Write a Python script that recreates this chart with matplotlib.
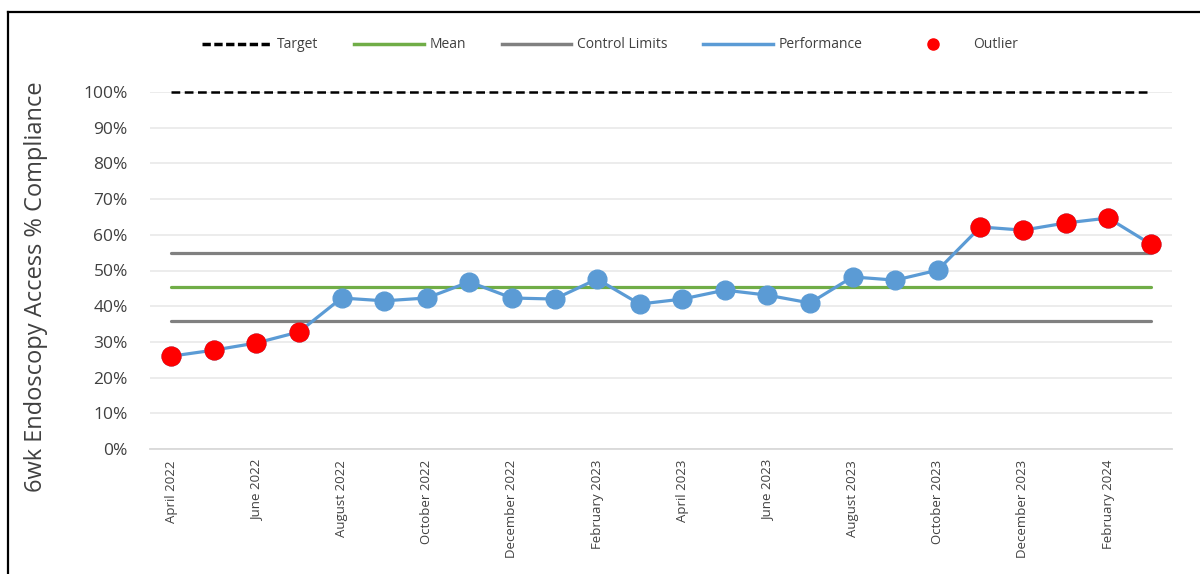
import numpy as np
import matplotlib
matplotlib.use("Agg")
import matplotlib.pyplot as plt
from matplotlib.lines import Line2D

months = ["April 2022", "May 2022", "June 2022", "July 2022", "August 2022",
          "September 2022", "October 2022", "November 2022", "December 2022",
          "January 2023", "February 2023", "March 2023", "April 2023", "May 2023",
          "June 2023", "July 2023", "August 2023", "September 2023",
          "October 2023", "November 2023", "December 2023", "January 2024",
          "February 2024", "March 2024"]
performance = [26.0, 27.7, 29.7, 32.8, 42.3, 41.5, 42.3, 46.8, 42.3, 42.0,
               47.6, 40.6, 42.0, 44.5, 43.1, 40.9, 48.2, 47.3, 50.1, 62.2,
               61.3, 63.3, 64.7, 57.4]
target = 100.0
mean = 45.4
upper_limit = 54.9
lower_limit = 35.9

plt.rcParams['font.family'] = ['Open Sans', 'DejaVu Sans']

n = len(months)
x = np.arange(n)
perf = np.array(performance) / 100
outlier = np.where((perf * 100 > upper_limit) | (perf * 100 < lower_limit), perf, np.nan)

fig = plt.figure(figsize=(12, 5.74), dpi=100)
ax = fig.add_axes([150 / 1200, 1 - 449 / 574, 1022 / 1200, 357 / 574])

blue = "#5B9BD5"
green = "#70AD47"
grey = "#808080"
red = "#FF0000"

ax.plot(x, np.full(n, target / 100), color="black", lw=1.8, ls=(0, (3.5, 1.8)),
        zorder=3, clip_on=False)
ax.plot(x, np.full(n, mean / 100), color=green, lw=2.3, solid_capstyle="round", zorder=3)
ax.plot(x, np.full(n, upper_limit / 100), color=grey, lw=2.3, solid_capstyle="round", zorder=3)
ax.plot(x, np.full(n, lower_limit / 100), color=grey, lw=2.3, solid_capstyle="round", zorder=3)
ax.plot(x, perf, color=blue, lw=2.3, marker="o", ms=13.5, mfc=blue, mec=blue, zorder=4)
ax.plot(x, outlier, ls="none", marker="o", ms=13.5, mfc=red, mec=red, zorder=5)

ax.set_xlim(-0.5, n - 0.5)
ax.set_ylim(0, 1.0)
ax.set_yticks(np.arange(0, 1.01, 0.1))
ax.set_yticklabels([f"{int(round(v * 100))}%" for v in np.arange(0, 1.01, 0.1)],
                   fontsize=12.5, color="#404040")
ax.set_xticks(x[::2])
ax.set_xticklabels(months[::2], rotation=90, fontsize=9.5, color="#404040")
ax.tick_params(axis="both", length=0)
ax.tick_params(axis="y", pad=16)
ax.tick_params(axis="x", pad=8)
ax.grid(axis="y", color="#EBEBEB", lw=1.3)
ax.set_axisbelow(True)
for s in ["top", "right", "left"]:
    ax.spines[s].set_visible(False)
ax.spines["bottom"].set_color("#D9D9D9")
ax.spines["bottom"].set_linewidth(1.3)

ax.set_ylabel("6wk Endoscopy Access % Compliance", fontsize=17, color="#404040")
ax.yaxis.set_label_coords(-0.1, 0.455)

handles = [
    Line2D([], [], color="black", lw=2.5, ls=(0, (2.4, 1.0))),
    Line2D([], [], color=green, lw=2.5),
    Line2D([], [], color=grey, lw=2.5),
    Line2D([], [], color=blue, lw=2.5),
    Line2D([], [], ls="none", marker="o", ms=8, color=red),
]
labels = ["Target", "Mean", "Control Limits", "Performance", "Outlier"]
fig.legend(handles, labels, loc="center", bbox_to_anchor=(610 / 1200, 1 - 45 / 574),
           ncol=5, frameon=False, fontsize=10, handlelength=5, columnspacing=2.6,
           handletextpad=0.4, labelcolor="#404040")

# frame lines along the top and left edges
fig.add_artist(Line2D([8 / 1200, 8 / 1200], [0, 1 - 12 / 574], transform=fig.transFigure,
                      color="black", lw=1.6))
fig.add_artist(Line2D([8 / 1200, 1], [1 - 12 / 574, 1 - 12 / 574], transform=fig.transFigure,
                      color="black", lw=1.6))

fig.savefig("out.png", dpi=100)
